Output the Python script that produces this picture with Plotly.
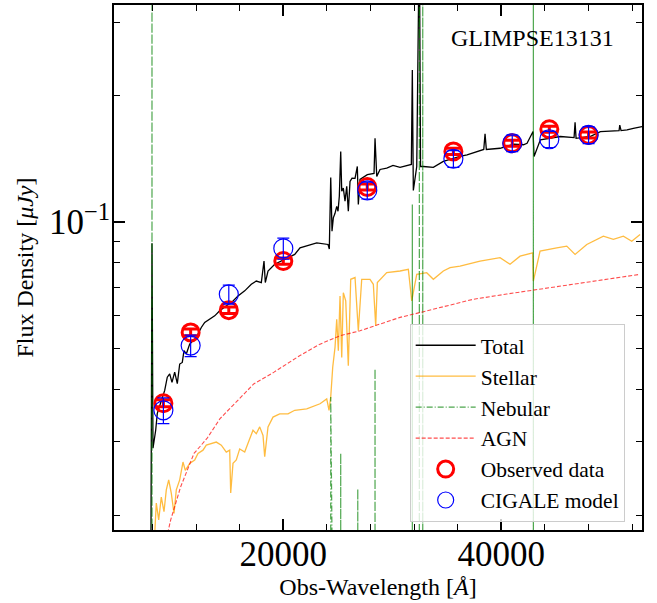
import plotly.graph_objects as go

# ---------------- data ----------------
total_wl = [7860, 7955, 8046, 8294, 8441, 8753, 9120, 9358, 9578, 9789, 10037, 10276, 10496, 10734,
            10890, 11101, 11413, 12019, 12477, 12789, 13248, 13707, 14165, 14771, 15385, 15844,
            16459, 17064, 17523, 17982, 18229, 18349, 18596, 19211, 19817, 20431, 21046,
            21532, 23064, 24101, 24220, 24349, 24468, 24587, 24743, 24899, 25018, 25137, 25266,
            25358, 25504, 25660, 25816, 25963, 26119, 26302, 26578, 26789, 26880, 27036, 27706,
            28321, 28413, 28569, 28871, 29486, 30064, 30706, 31468, 31743, 31834, 31926, 32238,
            32477, 32587, 32844, 33761, 34678, 36211, 36853, 38385, 38504, 38623, 39880, 41137,
            42018, 42357, 42907, 42999, 43577, 45412, 46669, 46761, 46853, 48137, 49082, 50797,
            50861, 50980, 51530, 52108, 52906]
total_flux = [0.0175, 0.0891, 0.0289, 0.0319, 0.0350, 0.0370, 0.0397, 0.0427, 0.0435, 0.0415, 0.0439,
              0.0412, 0.0459, 0.0463, 0.0494, 0.0485, 0.0512, 0.0531, 0.0561, 0.0577, 0.0587, 0.0598,
              0.0615, 0.0632, 0.0649, 0.0667, 0.0686, 0.0711, 0.0724, 0.0718, 0.0808, 0.0718, 0.0765,
              0.0794, 0.0808, 0.0823, 0.0838,
              0.0869, 0.0893, 0.0885, 0.0863, 0.1279, 0.0952, 0.1024,
              0.1050, 0.1091, 0.1062, 0.1153, 0.1475, 0.1185, 0.1206, 0.1122, 0.1218, 0.1062, 0.1251,
              0.1274, 0.1272, 0.1358, 0.1103, 0.1265, 0.1298, 0.1307, 0.1585, 0.1286, 0.1336, 0.1346,
              0.1366, 0.1351, 0.1371, 0.1373, 0.2305, 0.1190, 0.1358, 0.5000, 0.1358, 0.1358, 0.1351,
              0.1396, 0.1435, 0.1448, 0.1491, 0.1624, 0.1491, 0.1501, 0.1535, 0.1530, 0.1543, 0.1645,
              0.1435, 0.1572, 0.1601, 0.1592, 0.1731, 0.1585, 0.1601, 0.1645, 0.1654, 0.1705, 0.1654,
              0.1660, 0.1675, 0.1690]

stellar_wl = [8046, 8202, 8349, 8569, 8808, 9056, 9267, 9487, 9725, 9973, 10184, 10496, 10798, 11009,
              11413, 11872, 12175, 12633, 12936, 13395, 13853, 14312, 14771, 15083, 15174, 15385,
              15688, 16000, 16459, 16762, 17220, 17523, 17835, 18138, 18294, 18596, 19055, 19670,
              20431, 21046, 22147, 23367, 23982, 24193, 24349, 24532, 24743, 24899, 25046,
              25202, 25358, 25504, 25725, 25963, 26183, 26578, 26880, 27192, 27954, 28257, 28477,
              28624, 29486, 30706, 31468, 31780, 32238, 33155, 33761, 34678, 35293, 36211, 38045,
              39880, 40797, 41715, 42880, 42935, 43550, 45082, 45999, 46761, 47834, 49357, 50274,
              51192, 51962, 52724]
stellar_flux = [0.0170, 0.0180, 0.0214, 0.0195, 0.0221, 0.0204, 0.0230, 0.0243, 0.0226, 0.0202, 0.0230,
                0.0243, 0.0268, 0.0256, 0.0266, 0.0271, 0.0281, 0.0286, 0.0294, 0.0297, 0.0299, 0.0294,
                0.0283, 0.0286, 0.0226, 0.0266, 0.0271, 0.0288, 0.0283, 0.0297, 0.0319, 0.0313, 0.0325,
                0.0310, 0.0276, 0.0325, 0.0343, 0.0349, 0.0349, 0.0356,
                0.0359, 0.0369, 0.0379, 0.0356,
                0.0383, 0.0451, 0.0503, 0.0587, 0.0494, 0.0667, 0.0476, 0.0679, 0.0649, 0.0455, 0.0731,
                0.0738, 0.0551, 0.0731, 0.0731, 0.0711, 0.0566, 0.0718, 0.0758, 0.0765, 0.0772, 0.0649,
                0.0751, 0.0758, 0.0731, 0.0765, 0.0779, 0.0786, 0.0808, 0.0823, 0.0794, 0.0830, 0.0845,
                0.0724, 0.0853, 0.0869, 0.0877, 0.0838, 0.0885, 0.0926, 0.0910, 0.0926, 0.0901, 0.0935]

nebular_wl = [4500, 7950, 7955, 7960, 24340, 24349, 24358, 25260, 25266, 25272, 26825, 26830, 26835,
              28408, 28413, 28418, 31828, 31834, 31840, 32472, 32477, 32482, 32785, 32790, 32795,
              42930, 42935, 42940, 52900]
nebular_flux = [1e-4, 1e-4, 0.5, 1e-4, 1e-4, 0.0383, 1e-4, 1e-4, 0.0281, 1e-4, 1e-4, 0.0231, 1e-4,
                1e-4, 0.0447, 1e-4, 1e-4, 0.1102, 1e-4, 1e-4, 0.5, 1e-4, 1e-4, 0.5, 1e-4,
                1e-4, 0.5, 1e-4, 1e-4]

agn_wl = [9147, 9670, 10587, 11808, 13000, 14193, 15386, 17312, 19147, 21532, 23367, 25202, 27036,
          28871, 30706, 32541, 34376, 37431, 40495, 43550, 46605, 49669, 52724]
agn_flux = [0.0170, 0.0195, 0.0234, 0.0281, 0.0305, 0.0340, 0.0366, 0.0412, 0.0439, 0.0481, 0.0512,
            0.0536, 0.0551, 0.0572, 0.0593, 0.0609, 0.0626, 0.0655, 0.0674, 0.0692, 0.0711, 0.0731,
            0.0751]

phot_wl = [9000, 11500, 15000, 20000, 27700, 35600, 41000, 44400, 48000]
obs_flux = [0.0370, 0.0546, 0.0617, 0.0808, 0.1213, 0.1475, 0.1543, 0.1666, 0.1615]
obs_err = [0.0007, 0.0010, 0.0011, 0.0014, 0.0020, 0.0025, 0.0026, 0.0028, 0.0027]
mod_flux = [0.0356, 0.0508, 0.0673, 0.0866, 0.1191, 0.1417, 0.1543, 0.1577, 0.1615]
mod_err = [0.0025, 0.0030, 0.0035, 0.0050, 0.0055, 0.0065, 0.0070, 0.0070, 0.0075]

x_major = [20000, 40000]
x_major_text = ["20000", "40000"]
x_minor = [8000, 12000, 16000, 24000, 28000, 32000, 36000, 44000, 48000, 52000]
y_major = [0.1]
y_major_text = ["10<sup>−1</sup>"]
y_minor = [0.02, 0.03, 0.04, 0.05, 0.06, 0.07, 0.08, 0.09, 0.2, 0.3]

title_text = "GLIMPSE13131"

# ---------------- figure ----------------
SERIF = "Liberation Serif"
fig = go.Figure()

fig.add_trace(go.Scatter(x=total_wl, y=total_flux, mode="lines", name="Total", legendgroup="g1",
                         line=dict(color="black", width=1.3)))
fig.add_trace(go.Scatter(x=stellar_wl, y=stellar_flux, mode="lines", name="Stellar", legendgroup="g2",
                         line=dict(color="rgba(255,165,0,0.75)", width=1.3)))
fig.add_trace(go.Scatter(x=nebular_wl, y=nebular_flux, mode="lines", name="Nebular", legendgroup="g3",
                         line=dict(color="rgba(0,128,0,0.7)", width=1.2, dash="6px,2px,1px,2px")))
fig.add_trace(go.Scatter(x=agn_wl, y=agn_flux, mode="lines", name="AGN", legendgroup="g4",
                         line=dict(color="rgba(255,0,0,0.7)", width=1.1, dash="4px,2px")))
fig.add_trace(go.Scatter(x=phot_wl, y=obs_flux, mode="markers", name="Observed data", legendgroup="g5",
                         marker=dict(symbol="circle-open", size=17, color="red",
                                     line=dict(color="red", width=3)),
                         error_y=dict(type="data", array=obs_err, color="red", thickness=3, width=8)))
fig.add_trace(go.Scatter(x=phot_wl, y=mod_flux, mode="markers", name="CIGALE model", legendgroup="g6",
                         marker=dict(symbol="circle-open", size=19, color="blue",
                                     line=dict(color="blue", width=1.2)),
                         error_y=dict(type="data", array=mod_err, color="blue", thickness=1.2, width=6)))

fig.add_annotation(text=title_text, xref="paper", yref="paper", x=0.792, y=0.938,
                   xanchor="center", yanchor="middle",
                   showarrow=False, font=dict(family=SERIF, size=24, color="black"))

fig.update_layout(
    width=657, height=603,
    margin=dict(l=114, r=15, t=3, b=73),
    paper_bgcolor="white", plot_bgcolor="white",
    font=dict(family=SERIF, color="black"),
    showlegend=True,
    legend=dict(x=0.56, y=0.3928, xanchor="left", yanchor="top", traceorder="grouped",
                bgcolor="rgba(255,255,255,0.8)", bordercolor="#cccccc", borderwidth=1,
                font=dict(family=SERIF, size=21.5), tracegroupgap=0, itemwidth=60),
    xaxis=dict(range=[4470, 52900], showgrid=False, zeroline=False,
               showline=True, linecolor="black", linewidth=2, mirror="allticks",
               ticks="inside", ticklen=11, tickwidth=2, tickcolor="black",
               tickmode="array", tickvals=x_major, ticktext=x_major_text,
               tickfont=dict(family=SERIF, size=35), ticklabelstandoff=-8,
               minor=dict(tickmode="array", tickvals=x_minor, ticks="inside", ticklen=6,
                          tickwidth=1.2, tickcolor="black", showgrid=False),
               title=dict(text="Obs-Wavelength [<i>Å</i>]", font=dict(family=SERIF, size=24),
                          standoff=1)),
    yaxis=dict(type="log", range=[-1.734, -0.482], showgrid=False, zeroline=False,
               showline=True, linecolor="black", linewidth=2, mirror="allticks",
               ticks="inside", ticklen=11, tickwidth=2, tickcolor="black",
               tickmode="array", tickvals=y_major, ticktext=y_major_text,
               tickfont=dict(family=SERIF, size=35), ticklabelstandoff=-5,
               minor=dict(tickmode="array", tickvals=y_minor, ticks="inside", ticklen=6,
                          tickwidth=1.2, tickcolor="black", showgrid=False),
               title=dict(text="Flux Density [<i>μJy</i>]", font=dict(family=SERIF, size=24),
                          standoff=9)),
)

fig.write_html("out.html")
